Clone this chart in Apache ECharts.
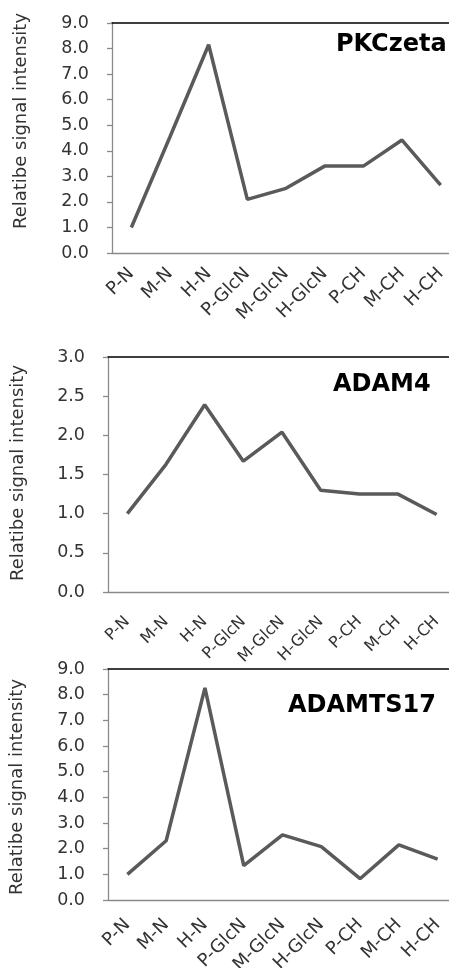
<!DOCTYPE html>
<html>
<head>
<meta charset="utf-8">
<script src="https://cdn.jsdelivr.net/npm/echarts@6/dist/echarts.min.js"></script>
<style>
html,body{margin:0;padding:0;background:#fff;}
#c{width:449px;height:968px;}
</style>
</head>
<body>
<div id="c"></div>
<script>
const categories = ['P-N','M-N','H-N','P-GlcN','M-GlcN','H-GlcN','P-CH','M-CH','H-CH'];
const pkczeta = [1.0, 4.55, 8.15, 2.1, 2.53, 3.4, 3.4, 4.42, 2.66];
const adam4 = [1.0, 1.63, 2.39, 1.67, 2.04, 1.30, 1.25, 1.25, 0.99];
const adamts17 = [1.0, 2.31, 8.26, 1.34, 2.54, 2.08, 0.83, 2.15, 1.59];
const titles = ['PKCzeta', 'ADAM4', 'ADAMTS17'];
const yMax = [9, 3, 9];
const yStep = [1, 0.5, 1];
const yName = 'Relatibe signal intensity';

const FONT = '"DejaVu Sans", sans-serif';
const seriesData = [pkczeta, adam4, adamts17];
const grids = [
  {left: 112, top: 23, width: 348, height: 230, outerBoundsMode: 'none', containLabel: false},
  {left: 108, top: 357, width: 348, height: 235, outerBoundsMode: 'none', containLabel: false},
  {left: 108, top: 669, width: 349, height: 231, outerBoundsMode: 'none', containLabel: false}
];
const catFont = [18, 16, 18];
const catMargin = [18, 27, 22];
const titlePos = [[336, 45], [333, 385], [288, 706]];
const namePos = [[21, 121], [18, 473], [17, 787]];

const xAxis = [], yAxis = [], series = [], graphic = [];
grids.forEach((g, i) => {
  xAxis.push({
    type: 'category', gridIndex: i, data: categories, boundaryGap: true,
    axisLine: {lineStyle: {color: '#8a8a8a', width: 1.3}},
    axisTick: {length: 7, lineStyle: {color: '#8a8a8a', width: 1.3}},
    axisLabel: {rotate: 45, fontFamily: FONT, fontSize: catFont[i], color: '#333',
      margin: catMargin[i], interval: 0}
  });
  xAxis.push({
    type: 'category', gridIndex: i, data: categories, position: 'top',
    axisLine: {lineStyle: {color: '#000', width: 1.5}},
    axisTick: {show: false}, axisLabel: {show: false}
  });
  yAxis.push({
    type: 'value', gridIndex: i, min: 0, max: yMax[i], interval: yStep[i],
    splitLine: {show: false},
    axisLine: {show: true, lineStyle: {color: '#8a8a8a', width: 1.3}},
    axisTick: {show: true, length: 5, lineStyle: {color: '#8a8a8a', width: 1.3}},
    axisLabel: {fontFamily: FONT, fontSize: 17.5, color: '#333', margin: 23,
      formatter: v => v.toFixed(1)}
  });
  series.push({
    type: 'line', xAxisIndex: i * 2, yAxisIndex: i, data: seriesData[i],
    showSymbol: false, symbol: 'none',
    lineStyle: {color: '#5a5a5a', width: 3.5}
  });
  graphic.push({
    type: 'text', x: titlePos[i][0], y: titlePos[i][1],
    style: {text: titles[i], font: 'bold 24px ' + FONT, fill: '#000',
      textAlign: 'left', textVerticalAlign: 'middle'}
  });
  graphic.push({
    type: 'text', x: namePos[i][0], y: namePos[i][1], rotation: Math.PI / 2,
    style: {text: yName, font: '18px ' + FONT, fill: '#333',
      textAlign: 'center', textVerticalAlign: 'middle'}
  });
});

const chart = echarts.init(document.getElementById('c'), null, {renderer: 'canvas'});
chart.setOption({
  animation: false,
  backgroundColor: '#fff',
  grid: grids,
  xAxis, yAxis, series, graphic
});
</script>
</body>
</html>
